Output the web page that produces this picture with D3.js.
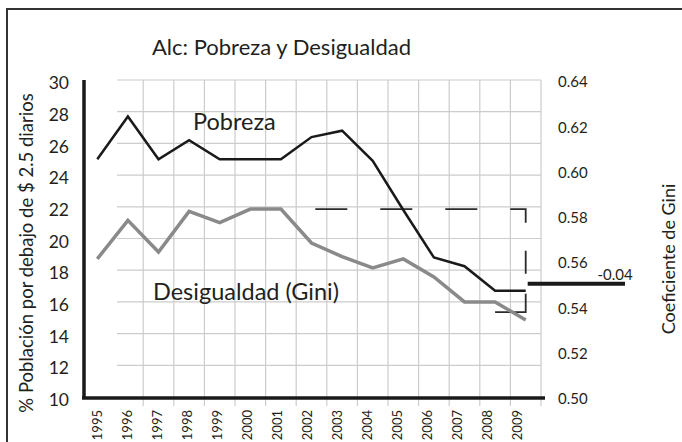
<!DOCTYPE html>
<html>
<head>
<meta charset="utf-8">
<script src="https://cdn.jsdelivr.net/npm/d3@7"></script>
<style>
  body { margin: 0; background: #fff; }
  svg text { font-family: Lato, "Open Sans", sans-serif; fill: #231f20; }
</style>
</head>
<body>
<div id="chart"></div>
<script>
(function() {
	"use strict";
	// years and series
	var years = ["1995","1996","1997","1998","1999","2000","2001","2002","2003","2004","2005","2006","2007","2008","2009"];
	var pobreza = [25.0, 27.7, 25.0, 26.2, 25.0, 25.0, 25.0, 26.4, 26.8, 24.9, 21.8, 18.8, 18.25, 16.7, 16.7];
	var gini = [0.561, 0.578, 0.564, 0.582, 0.577, 0.583, 0.583, 0.568, 0.562, 0.557, 0.561, 0.553, 0.542, 0.542, 0.534];
	var leftTicks = [10, 12, 14, 16, 18, 20, 22, 24, 26, 28, 30];
	var rightTicks = [0.50, 0.52, 0.54, 0.56, 0.58, 0.60, 0.62, 0.64];
	// bracket showing the drop in Gini, its marker level and label
	var bracket = [["2000", 0.583], ["2009", 0.583], ["2009", 0.5375], ["2008", 0.5375]];
	var dropLevel = 0.550;
	var dropLabel = "-0.04";

	var W = 682, H = 442;
	var svg = d3.select("#chart").append("svg")
		.attr("width", W)
		.attr("height", H);

	// outer frame
	svg.append("rect")
		.attr("x", 7).attr("y", 9)
		.attr("width", 690).attr("height", 450)
		.attr("fill", "none")
		.attr("stroke", "#333")
		.attr("stroke-width", 2);

	var x = d3.scaleBand().domain(years).range([82, 541]);
	var yL = d3.scaleLinear().domain([10, 30]).range([397, 80]);
	var yR = d3.scaleLinear().domain([0.50, 0.64]).range([397, 80]);
	var cx = function(yr) { return x(yr) + x.bandwidth() / 2; };

	// grid
	var grid = svg.append("g").attr("class", "grid");
	grid.selectAll("line.h").data(leftTicks.slice(1))
		.enter().append("line")
		.attr("class", "h")
		.attr("x1", 117).attr("x2", x.range()[1])
		.attr("y1", function(d) { return yL(d); })
		.attr("y2", function(d) { return yL(d); })
		.attr("stroke", "#cccccc")
		.attr("stroke-width", 1.2);
	grid.selectAll("line.v").data(years.slice(1))
		.enter().append("line")
		.attr("class", "v")
		.attr("x1", function(d) { return x(d) + x.bandwidth(); })
		.attr("x2", function(d) { return x(d) + x.bandwidth(); })
		.attr("y1", yL(30)).attr("y2", 406)
		.attr("stroke", "#cccccc")
		.attr("stroke-width", 1.2);

	// axes lines
	svg.append("line")
		.attr("x1", 84).attr("x2", 84)
		.attr("y1", yL(30)).attr("y2", 399)
		.attr("stroke", "#1a1a1a").attr("stroke-width", 3.5);
	svg.append("line")
		.attr("x1", 82).attr("x2", 545)
		.attr("y1", 398).attr("y2", 398)
		.attr("stroke", "#1a1a1a").attr("stroke-width", 3.5);

	// left tick labels
	svg.selectAll("text.lt").data(leftTicks)
		.enter().append("text")
		.attr("class", "lt")
		.attr("x", 69)
		.attr("y", function(d) { return yL(d) + 3; })
		.attr("dy", "0.35em")
		.attr("text-anchor", "end")
		.style("font-size", "17.5px")
		.text(function(d) { return d; });

	// right tick labels
	svg.selectAll("text.rt").data(rightTicks)
		.enter().append("text")
		.attr("class", "rt")
		.attr("x", 558)
		.attr("y", function(d) { return yR(d) + 2; })
		.attr("dy", "0.35em")
		.style("font-size", "15px")
		.text(function(d) { return d.toFixed(2); });

	// year labels
	svg.selectAll("text.yr").data(years)
		.enter().append("text")
		.attr("class", "yr")
		.attr("transform", function(d, i) {
			return "translate(" + (cx(d) - i * 0.6) + ",410) rotate(-90)";
		})
		.attr("dy", "0.35em")
		.attr("text-anchor", "end")
		.style("font-size", "13px")
		.text(function(d) { return d; });

	// axis titles
	svg.append("text")
		.attr("transform", "translate(27,253) rotate(-90)")
		.attr("dy", "0.35em")
		.attr("text-anchor", "middle")
		.style("font-size", "18.5px")
		.text("% Población por debajo de $ 2.5 diarios");
	svg.append("text")
		.attr("transform", "translate(669,259) rotate(-90)")
		.attr("dy", "0.35em")
		.attr("text-anchor", "middle")
		.style("font-size", "18px")
		.text("Coeficiente de Gini");

	// title and series labels
	svg.append("text")
		.attr("x", 152).attr("y", 55)
		.style("font-size", "22px")
		.text("Alc: Pobreza y Desigualdad");
	svg.append("text")
		.attr("x", 193).attr("y", 130)
		.style("font-size", "23.5px")
		.text("Pobreza");
	svg.append("text")
		.attr("x", 153).attr("y", 300)
		.style("font-size", "23.5px")
		.text("Desigualdad (Gini)");

	// bracket
	var bLine = d3.line()
		.x(function(d) { return cx(d[0]); })
		.y(function(d) { return yR(d[1]); });
	svg.append("path")
		.attr("d", bLine(bracket))
		.attr("fill", "none")
		.attr("stroke", "#2b2b2b")
		.attr("stroke-width", 1.8)
		.attr("stroke-dasharray", "32,33,32,33,32,33,32,33,29,28,23,20,60,10");

	// series lines
	var lineP = d3.line()
		.x(function(d, i) { return cx(years[i]); })
		.y(function(d) { return yL(d); });
	var lineG = d3.line()
		.x(function(d, i) { return cx(years[i]); })
		.y(function(d) { return yR(d); });
	svg.append("path")
		.attr("d", lineG(gini))
		.attr("fill", "none")
		.attr("stroke", "#8a8a8a")
		.attr("stroke-width", 3.5);
	svg.append("path")
		.attr("d", lineP(pobreza))
		.attr("fill", "none")
		.attr("stroke", "#1a1a1a")
		.attr("stroke-width", 2.5);

	// drop marker
	var midY = yR(dropLevel);
	svg.append("line")
		.attr("x1", cx("2009") + 2).attr("x2", 625)
		.attr("y1", midY).attr("y2", midY)
		.attr("stroke", "#1a1a1a").attr("stroke-width", 4);
	svg.append("text")
		.attr("x", 615).attr("y", midY - 4)
		.attr("text-anchor", "middle")
		.style("font-size", "15px")
		.text(dropLabel);
}());
</script>
</body>
</html>
